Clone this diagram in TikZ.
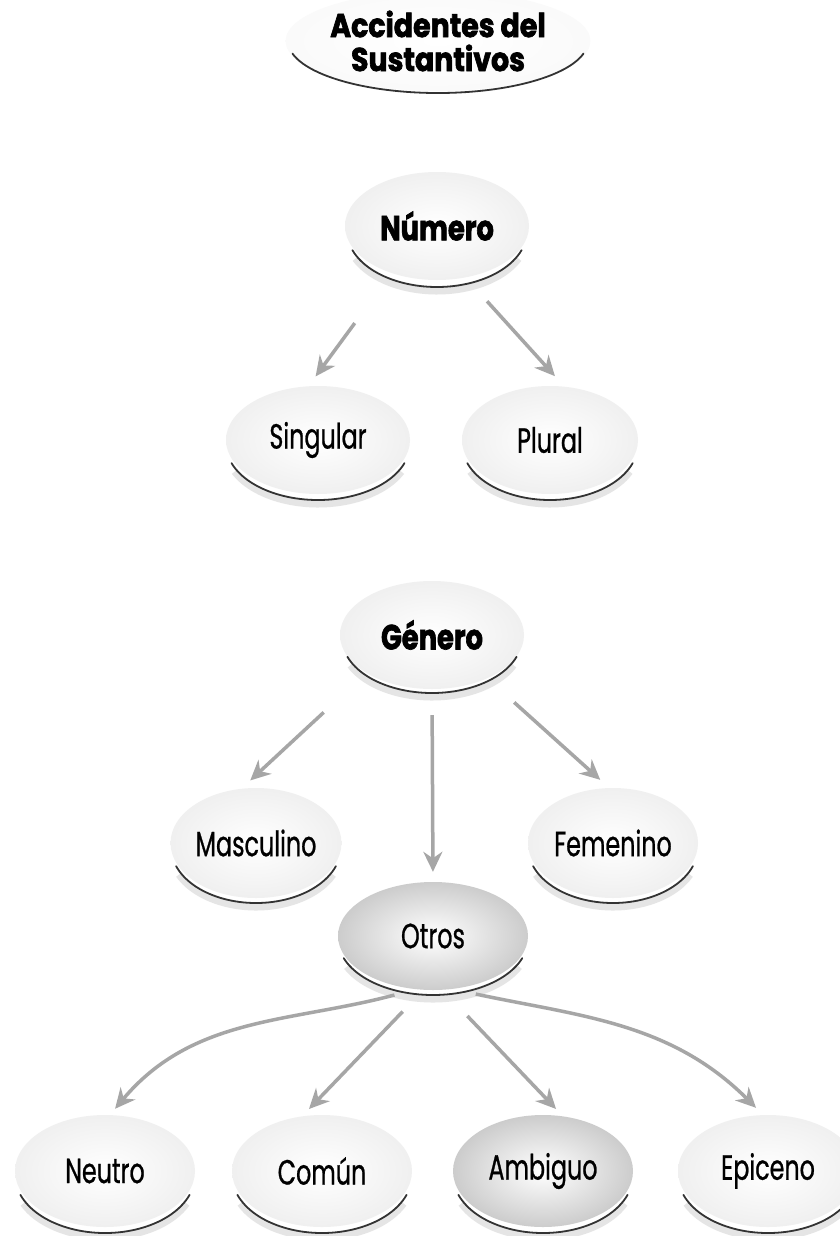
\documentclass[tikz,border=0pt]{standalone}
\usepackage{fontspec}
\setmainfont{Poppins}[FakeStretch=0.68, FakeBold=0.7]
\newfontfamily\headfont{Poppins}[FakeStretch=0.78, FakeBold=1.8]
\newfontfamily\titlefont{Poppins}[FakeStretch=0.86, FakeBold=2.0]
\usetikzlibrary{shapes.geometric,arrows.meta}
% #1 node, #2 x radius, #3 y radius, #4 downward offset of the arc centre
\newcommand\btnarc[4]{%
  \draw[shd] ([yshift=-#4-4pt]#1.center) ++(205:#2 and #3) arc[start angle=205,end angle=335,x radius=#2,y radius=#3];
  \draw[arcst] ([yshift=-#4]#1.center) ++(200:#2 and #3) arc[start angle=200,end angle=340,x radius=#2,y radius=#3];}
\begin{document}
\begin{tikzpicture}[x=1pt,y=1pt,
  btn/.style={ellipse, inner sep=0pt, inner color=white, outer color=black!6,
    text=black, font=\fontsize{35}{35}\selectfont},
  dark/.style={outer color=black!20},
  boldlbl/.style={font=\fontsize{35}{35}\headfont\bfseries},
  arcst/.style={line width=1.8pt, draw=black!80, line cap=round},
  shd/.style={line width=7pt, draw=black!10},
  arr/.style={draw=black!35, line width=3.5pt, -{Stealth[length=20pt,width=19pt]}}]
\useasboundingbox (0,-1236) rectangle (839,0);
\fill[white] (0,-1236) rectangle (839,0);

\node[btn, minimum width=300pt, minimum height=100pt, outer color=black!2, align=center,
  font=\fontsize{33}{34}\titlefont\bfseries] (titulo) at (438,-41) {Accidentes del\\Sustantivos};
\node[btn, boldlbl, minimum width=184pt, minimum height=108pt] (numero) at (437,-226) {Número};
\node[btn, minimum width=184pt, minimum height=108pt] (singular) at (318,-440) {Singular};
\node[btn, minimum width=176pt, minimum height=108pt] (plural) at (550,-440) {Plural};
\node[btn, boldlbl, minimum width=184pt, minimum height=108pt] (genero) at (432,-635) {Género};
\node[btn, minimum width=170pt, minimum height=110pt] (masculino) at (256,-843) {Masculino};
\node[btn, minimum width=170pt, minimum height=110pt] (femenino) at (613,-843) {Femenino};
\node[btn, dark, minimum width=190pt, minimum height=108pt] (otros) at (433,-936) {Otros};
\node[btn, minimum width=180pt, minimum height=112pt] (neutro) at (105,-1171) {Neutro};
\node[btn, minimum width=180pt, minimum height=112pt] (comun) at (322,-1171) {Común};
\node[btn, dark, minimum width=180pt, minimum height=112pt] (ambiguo) at (543,-1171) {Ambiguo};
\node[btn, minimum width=180pt, minimum height=112pt] (epiceno) at (768,-1171) {Epiceno};

\draw[arcst] (titulo.center) ++(194:150 and 52) arc[start angle=194,end angle=346,x radius=150,y radius=52];
\btnarc{numero}{90}{56}{5pt}
\btnarc{singular}{92}{56}{4pt}
\btnarc{plural}{88}{56}{4pt}
\btnarc{genero}{90}{55}{3pt}
\btnarc{masculino}{85}{56}{4pt}
\btnarc{femenino}{85}{56}{4pt}
\btnarc{otros}{95}{56}{3pt}
\btnarc{neutro}{90}{58}{4pt}
\btnarc{comun}{90}{58}{4pt}
\btnarc{ambiguo}{90}{58}{4pt}
\btnarc{epiceno}{90}{58}{4pt}

\draw[arr, shorten <=62pt, shorten >=12pt] (numero.226) -- (singular.100);
\draw[arr, shorten <=32pt, shorten >=14pt] (numero.299) -- (plural.75);
\draw[arr, shorten <=58pt, shorten >=12pt] (genero.210) -- (masculino.105);
\draw[arr, shorten <=26pt, shorten >=10pt] (genero.south) -- (otros.north);
\draw[arr, shorten <=36pt, shorten >=12pt] (genero.322) -- (femenino.94);
\draw[arr, shorten <=22pt, shorten >=8pt] (otros.252) to[out=195,in=50] (neutro.85);
\draw[arr, shorten <=30pt, shorten >=10pt] (otros.260) -- (comun.110);
\draw[arr, shorten <=36pt, shorten >=10pt] (otros.280) -- (ambiguo.70);
\draw[arr, shorten <=24pt, shorten >=10pt] (otros.290) to[out=-12,in=135] (epiceno.95);
\end{tikzpicture}
\end{document}
